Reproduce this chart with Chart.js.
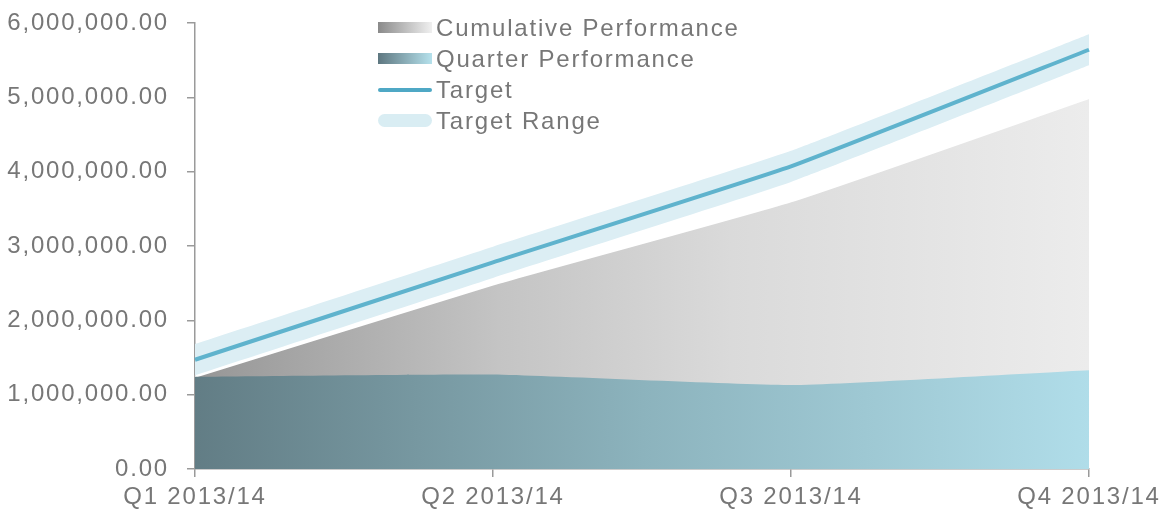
<!DOCTYPE html>
<html>
<head>
<meta charset="utf-8">
<script src="https://cdn.jsdelivr.net/npm/chart.js@4"></script>
<style>
    html, body { margin: 0; padding: 0; background: #fff; }
    #wrap { position: relative; width: 1176px; height: 516px; }
    #legend {
        position: absolute; left: 378px; top: 12px;
        font-family: "Liberation Sans", Arial, sans-serif;
        font-size: 24px; letter-spacing: 1.8px; color: #777;
    }
    .item { display: flex; align-items: center; height: 31px; }
    .sw { width: 54px; margin-right: 4px; }
    .cum { height: 11px; background: linear-gradient(to right, #8a8a8a, #f0f0f0); }
    .qtr { height: 11px; background: linear-gradient(to right, #5e7780, #b5e1ec); }
    .tgt { height: 4px; border-radius: 2px; background: #4fa8c5; }
    .rng { height: 13px; border-radius: 7px; background: #d9edf3; }
</style>
</head>
<body>
<div id="wrap">
    <canvas id="perfChart"></canvas>
    <div id="legend">
        <div class="item"><div class="sw cum"></div>Cumulative Performance</div>
        <div class="item"><div class="sw qtr"></div>Quarter Performance</div>
        <div class="item"><div class="sw tgt"></div>Target</div>
        <div class="item"><div class="sw rng"></div>Target Range</div>
    </div>
</div>
<script>
// Données
const quarters = ['Q1 2013/14', 'Q2 2013/14', 'Q3 2013/14', 'Q4 2013/14'];
const cumulative = [1240000, 2480000, 3600000, 4990000];
const quarterPerf = [1240000, 1270000, 1130000, 1330000];
const target = [1470000, 2780000, 4070000, 5640000];
const targetHigh = [1680000, 2990000, 4280000, 5850000];
const targetLow = [1260000, 2570000, 3860000, 5430000];
const yTicks = [0, 1000000, 2000000, 3000000, 4000000, 5000000, 6000000];

const axisColor = '#9a9a9a';
const textColor = '#777';

/**
 * Dégradé horizontal sur la zone du graphique
 */
function hGradient(context, stops) {
    const chart = context.chart;
    const area = chart.chartArea;
    if (!area) return stops[0][1];
    const g = chart.ctx.createLinearGradient(area.left, 0, area.right, 0);
    stops.forEach(s => g.addColorStop(s[0], s[1]));
    return g;
}

// Espacement des lettres comme sur l'original
const spacingPlugin = {
    id: 'spacing',
    beforeDraw(chart) {
        chart.ctx.letterSpacing = '1.8px';
    }
};

const ctx = document.getElementById('perfChart');

new Chart(ctx, {
    type: 'line',
    data: {
        labels: quarters,
        datasets: [{
            label: 'Target',
            data: target,
            borderColor: '#5fb3cd',
            borderWidth: 4,
            fill: false,
            tension: 0.1,
            order: 0
        }, {
            label: 'Target Range',
            data: targetHigh,
            borderWidth: 0,
            backgroundColor: '#dceef4',
            fill: '+1',
            tension: 0.1,
            order: 1
        }, {
            label: 'Target Range (bas)',
            data: targetLow,
            borderWidth: 0,
            fill: false,
            tension: 0.1,
            order: 2
        }, {
            label: 'Quarter Performance',
            data: quarterPerf,
            borderWidth: 0,
            backgroundColor: c => hGradient(c, [[0, '#627d85'], [0.5, '#8cb3bd'], [1, '#b0dde9']]),
            fill: 'origin',
            tension: 0.15,
            order: 3
        }, {
            label: 'Cumulative Performance',
            data: cumulative,
            borderColor: '#ffffff',
            borderWidth: 2,
            backgroundColor: c => hGradient(c, [[0, '#969696'], [0.34, '#c4c4c4'], [0.6, '#dadada'], [1, '#ececec']]),
            fill: 'origin',
            tension: 0.15,
            order: 4
        }]
    },
    options: {
        responsive: true,
        maintainAspectRatio: false,
        animation: false,
        elements: {
            point: { radius: 0, hoverRadius: 0 }
        },
        layout: {
            padding: { top: 23, right: 87, bottom: 0, left: 0 }
        },
        plugins: {
            legend: { display: false },
            tooltip: { enabled: false }
        },
        scales: {
            x: {
                offset: false,
                afterFit: scale => {
                    scale.height = 47;
                    scale.paddingLeft = 0;
                    scale.paddingRight = 0;
                },
                border: { display: true, color: axisColor, width: 1.5 },
                grid: {
                    drawOnChartArea: false,
                    drawTicks: true,
                    tickLength: 8,
                    color: axisColor,
                    lineWidth: 1.5
                },
                ticks: {
                    color: textColor,
                    padding: 6,
                    maxRotation: 0,
                    font: { family: '"Liberation Sans", Arial, sans-serif', size: 24 }
                }
            },
            y: {
                min: 0,
                max: 6000000,
                afterFit: scale => {
                    scale.width = 195;
                    scale.paddingTop = 0;
                    scale.paddingBottom = 0;
                },
                afterBuildTicks: scale => {
                    scale.ticks = yTicks.map(v => ({ value: v }));
                },
                border: { display: true, color: axisColor, width: 1.5 },
                grid: {
                    drawOnChartArea: false,
                    drawTicks: true,
                    tickLength: 8,
                    color: axisColor,
                    lineWidth: 1.5
                },
                ticks: {
                    color: textColor,
                    padding: 18,
                    font: { family: '"Liberation Sans", Arial, sans-serif', size: 24 },
                    callback: v => v.toLocaleString('en-US', { minimumFractionDigits: 2, maximumFractionDigits: 2 })
                }
            }
        }
    },
    plugins: [spacingPlugin]
});
</script>
</body>
</html>
